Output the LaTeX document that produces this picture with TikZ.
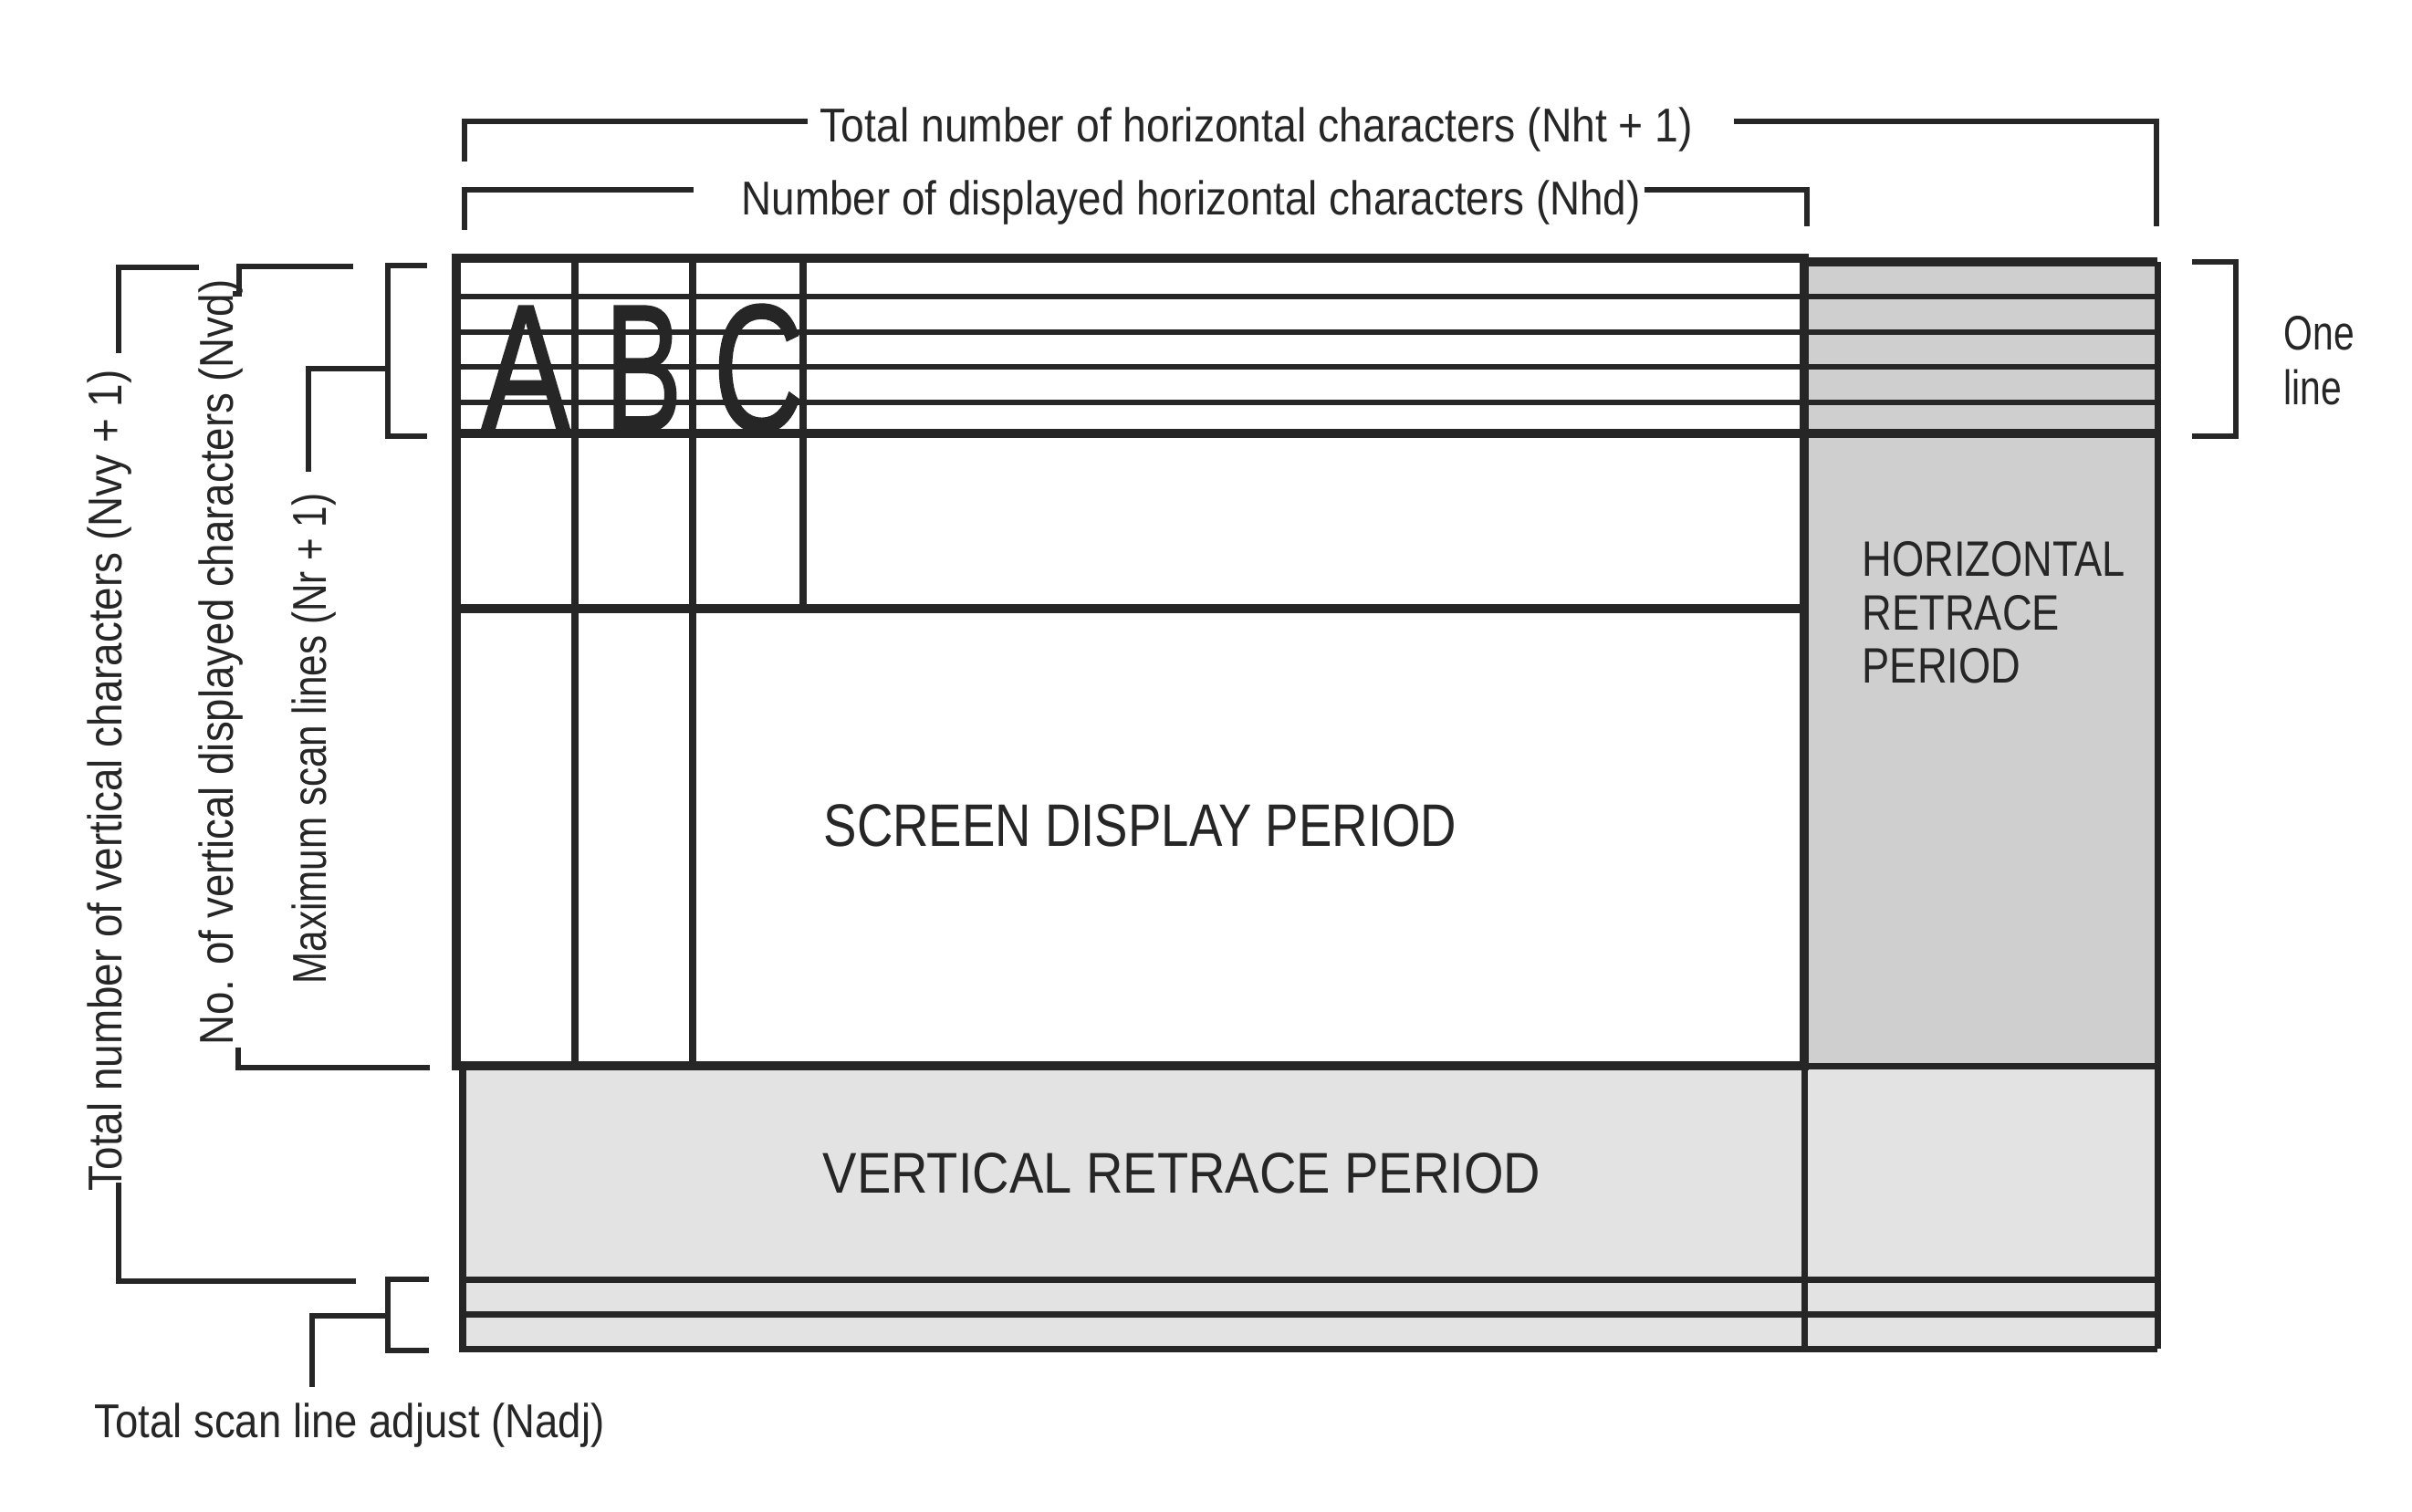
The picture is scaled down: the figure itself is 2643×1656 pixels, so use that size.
\documentclass[tikz,border=0pt]{standalone}
\usepackage{fontspec}
\setmainfont{Liberation Sans}
\newfontfamily\glyphfont[FakeBold=1.2]{Liberation Sans}
\usepackage{graphicx}
\definecolor{inkc}{RGB}{38,38,38}
\newcommand{\sq}[2]{\scalebox{#1}[1]{#2}}
\tikzset{
  border/.style={draw=inkc, line width=2.85pt},
  scanln/.style={draw=inkc, line width=1.9pt},
  colln/.style={draw=inkc, line width=2.3pt},
  rowln/.style={draw=inkc, line width=3pt},
  retln/.style={draw=inkc, line width=2pt},
  brk/.style={draw=inkc, line width=1.5pt, line join=miter},
  lbl/.style={inner sep=0pt, text=inkc, font=\fontsize{14.8}{18}\selectfont, anchor=base west},
  glyph/.style={inner sep=0pt, text=inkc, font=\glyphfont\fontsize{56.4}{60}\selectfont, anchor=base},
  hfill/.style={fill=black!19},
  vfill/.style={fill=black!11}
}
\begin{document}
\begin{tikzpicture}[x=0.01cm,y=-0.01cm]
\useasboundingbox[fill=white] (0,0) rectangle (2643,1656);

% retrace fills
\fill[hfill] (1977,287) rectangle (2364,1168);
\fill[vfill] (507,1168) rectangle (2364,1478);

% scan lines of the first character row
\foreach \yy in {325,364,402,441} \draw[scanln] (500,\yy) -- (2364,\yy);
\draw[rowln] (500,475) -- (2364,475);
% character columns
\draw[colln] (630,283) -- (630,1168);
\draw[colln] (759,283) -- (759,1168);
\draw[colln] (880,283) -- (880,667);
\draw[rowln] (500,667) -- (1977,667);
% horizontal retrace block
\draw[border] (1977,287) -- (2364,287);
\draw[retln] (2364,287) -- (2364,1478);
\draw[retln] (1977,1168) -- (2364,1168);
% vertical retrace block and adjust lines
\draw[retln] (507,1168) -- (507,1478) -- (2364,1478);
\draw[retln] (507,1402) -- (2364,1402);
\draw[retln] (507,1440) -- (2364,1440);
\draw[retln] (1977,1168) -- (1977,1478);
% screen display frame
\draw[border] (500,283) rectangle (1977,1168);

% large characters
\node[glyph] (chA) at (576,472) {\sq{0.74}{A}};
\node[glyph] (chB) at (705,472) {\sq{0.64}{B}};
\node[glyph] (chC) at (831,472) {\sq{0.69}{C}};

% period labels
\node[inner sep=0pt, text=inkc, anchor=base west, font=\fontsize{18.7}{22}\selectfont] (sdp) at (902,927) {\sq{0.83}{SCREEN DISPLAY PERIOD}};
\node[inner sep=0pt, text=inkc, anchor=base west, font=\fontsize{17.9}{22}\selectfont] (vrp) at (901,1307) {\sq{0.89}{VERTICAL RETRACE PERIOD}};
\node[inner sep=0pt, text=inkc, anchor=base west, font=\fontsize{15.5}{19}\selectfont] (hrp1) at (2040,631) {\sq{0.83}{HORIZONTAL}};
\node[inner sep=0pt, text=inkc, anchor=base west, font=\fontsize{15.5}{19}\selectfont] (hrp2) at (2040,690) {\sq{0.83}{RETRACE}};
\node[inner sep=0pt, text=inkc, anchor=base west, font=\fontsize{15.5}{19}\selectfont] (hrp3) at (2040,748) {\sq{0.83}{PERIOD}};

% dimension labels
\node[lbl] (toth) at (898,155) {\sq{0.89}{Total number of horizontal characters (Nht + 1)}};
\node[lbl] (nhd) at (812,235) {\sq{0.88}{Number of displayed horizontal characters (Nhd)}};
\node[lbl, rotate=90] (nvy) at (133,1306) {\sq{0.88}{Total number of vertical characters (Nvy + 1)}};
\node[lbl, rotate=90] (nvd) at (255,1146) {\sq{0.877}{No. of vertical displayed characters (Nvd)}};
\node[lbl, rotate=90] (nr) at (357,1079) {\sq{0.81}{Maximum scan lines (Nr + 1)}};
\node[lbl] (nadj) at (103,1575) {\sq{0.874}{Total scan line adjust (Nadj)}};
\node[inner sep=0pt, text=inkc, anchor=base west, font=\fontsize{15.1}{18}\selectfont] (one1) at (2502,383) {\sq{0.77}{One}};
\node[inner sep=0pt, text=inkc, anchor=base west, font=\fontsize{15.1}{18}\selectfont] (one2) at (2502,443) {\sq{0.77}{line}};

% top brackets
\draw[brk] (509,177) -- (509,133) -- (885,133);
\draw[brk] (1900,133) -- (2363,133) -- (2363,248);
\draw[brk] (509,252) -- (509,208) -- (760,208);
\draw[brk] (1802,208) -- (1980,208) -- (1980,248);
% one line brackets
\draw[brk] (2402,287) -- (2450,287) -- (2450,478) -- (2402,478);
\draw[brk] (468,291) -- (425,291) -- (425,478) -- (468,478);
\draw[brk] (425,404) -- (338,404) -- (338,517);
% vertical totals
\draw[brk] (218,293) -- (130,293) -- (130,387);
\draw[brk] (130,1296) -- (130,1404) -- (390,1404);
\draw[brk] (255,322) -- (262,322) -- (262,292) -- (387,292);
\draw[brk] (261,1148) -- (261,1170) -- (471,1170);
% adjust bracket
\draw[brk] (470,1402) -- (425,1402) -- (425,1480) -- (470,1480);
\draw[brk] (425,1442) -- (342,1442) -- (342,1520);
\end{tikzpicture}
\end{document}
